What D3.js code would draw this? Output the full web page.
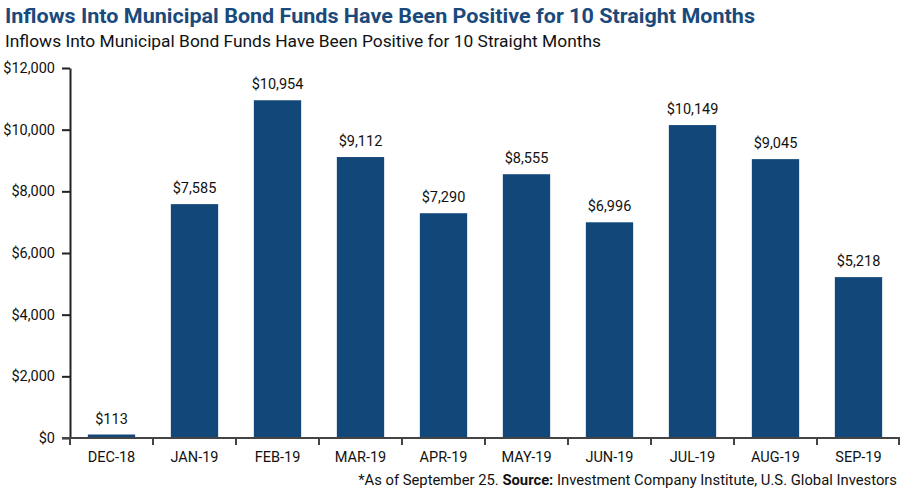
<!DOCTYPE html>
<html><head><meta charset="utf-8">
<script src="https://cdn.jsdelivr.net/npm/d3@7"></script>
<style>body{margin:0;background:#fff;} svg{display:block;font-family:Roboto, "Noto Sans", sans-serif;}</style>
</head><body>
<svg id="c" width="900" height="491"></svg>
<script>
const categories = ["DEC-18","JAN-19","FEB-19","MAR-19","APR-19","MAY-19","JUN-19","JUL-19","AUG-19","SEP-19"];
const values = [113,7585,10954,9112,7290,8555,6996,10149,9045,5218];
const yTicks = [0,2000,4000,6000,8000,10000,12000];
const title = "Inflows Into Municipal Bond Funds Have Been Positive for 10 Straight Months";
const subtitle = "Inflows Into Municipal Bond Funds Have Been Positive for 10 Straight Months";

const svg = d3.select("#c");
const x0 = 70, x1 = 900, yTop = 68, yBot = 438;
const x = d3.scaleBand().domain(categories).range([x0, x1]).paddingInner(0.43).paddingOuter(0.215);
const y = d3.scaleLinear().domain([0,12000]).range([yBot, yTop]);
const fmt = v => "$" + d3.format(",")(v);

svg.append("text").attr("x",5).attr("y",23).attr("fill","#1a4a7c").attr("font-weight","bold")
  .attr("font-size",21).attr("textLength",750).attr("lengthAdjust","spacingAndGlyphs").text(title);
svg.append("text").attr("x",5).attr("y",47).attr("fill","#111").attr("font-size",17)
  .attr("textLength",596).attr("lengthAdjust","spacingAndGlyphs").text(subtitle);

svg.selectAll("rect.bar").data(values).join("rect").attr("class","bar")
  .attr("x",(d,i)=>x(categories[i])).attr("width",x.bandwidth())
  .attr("y",d=>y(d)).attr("height",d=>yBot-y(d)).attr("fill","#12477a");

svg.selectAll("text.lbl").data(values).join("text").attr("class","lbl")
  .attr("x",(d,i)=>x(categories[i])+x.bandwidth()/2).attr("y",d=>y(d)-11)
  .attr("text-anchor","middle").attr("font-size",14.5).attr("fill","#111").text(fmt);

// y axis
const ya = svg.append("g").attr("transform",`translate(${x0},0)`)
  .call(d3.axisLeft(y).tickValues(yTicks).tickFormat(fmt).tickSize(8).tickSizeOuter(0));
ya.select(".domain").attr("stroke","#222").attr("stroke-width",2);
ya.selectAll(".tick line").attr("stroke","#222").attr("stroke-width",2);
ya.selectAll("text").attr("font-size",14.5).attr("fill","#111").attr("x",-15).attr("font-family","Roboto, sans-serif");

// x axis
const xa = svg.append("g").attr("transform",`translate(0,${yBot})`)
  .call(d3.axisBottom(x).tickSize(0).tickSizeOuter(0));
xa.select(".domain").remove();
xa.selectAll("text").attr("font-size",14.5).attr("fill","#111").attr("dy","0").attr("y",24).attr("font-family","Roboto, sans-serif");
svg.append("line").attr("x1",62).attr("x2",x1).attr("y1",yBot).attr("y2",yBot).attr("stroke","#444").attr("stroke-width",2);
const bounds = categories.map(c=>x(c)-x.step()*x.paddingInner()/2).concat([x1]);
svg.selectAll("line.xt").data(bounds.slice(0,10)).join("line").attr("class","xt")
  .attr("x1",d=>Math.round(d)).attr("x2",d=>Math.round(d)).attr("y1",yBot).attr("y2",yBot+7)
  .attr("stroke","#444").attr("stroke-width",2);
svg.append("line").attr("x1",x1-1).attr("x2",x1-1).attr("y1",yBot).attr("y2",yBot+7).attr("stroke","#444").attr("stroke-width",2);

const foot = svg.append("text").attr("x",897).attr("y",485).attr("text-anchor","end").attr("font-size",14.8).attr("fill","#111");
foot.append("tspan").text("*As of September 25. ");
foot.append("tspan").attr("font-weight","bold").text("Source:");
foot.append("tspan").text(" Investment Company Institute, U.S. Global Investors");
</script>
</body></html>
